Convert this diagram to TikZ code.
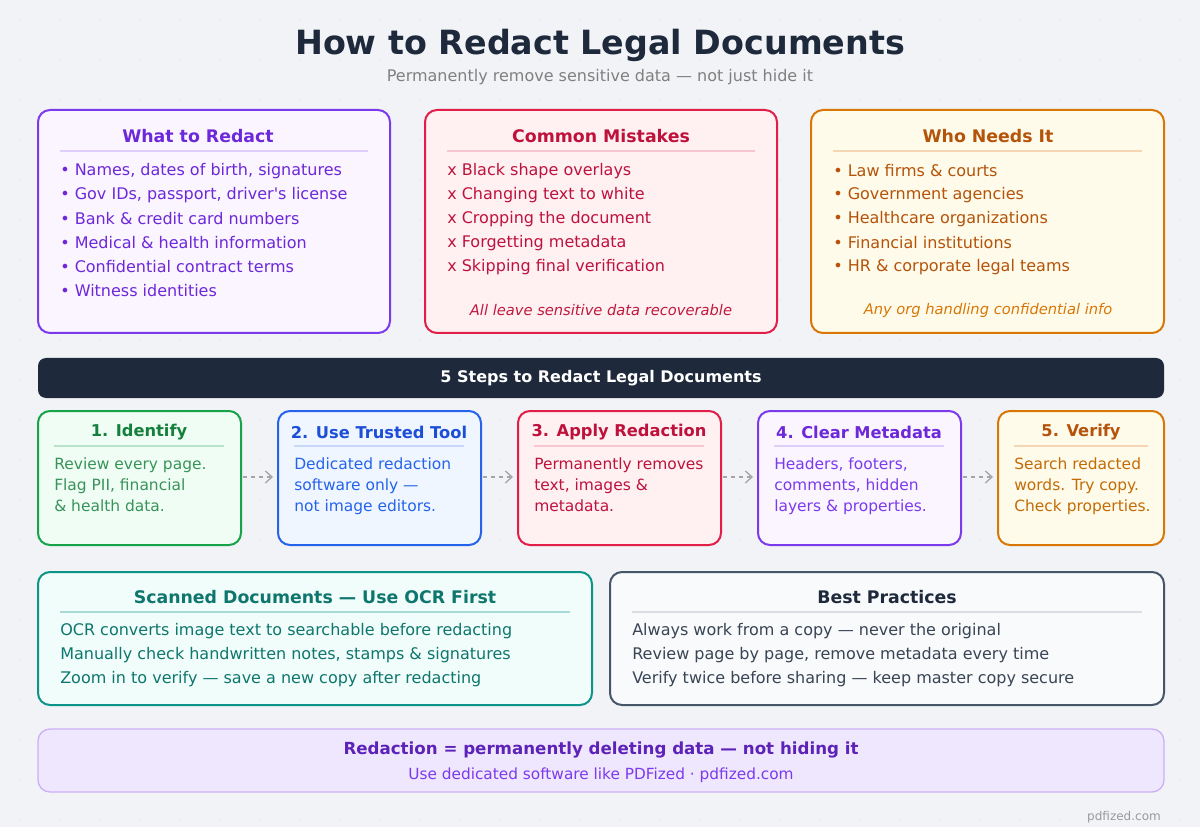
\documentclass[tikz,border=0pt]{standalone}
\usepackage{fontspec}
\setmainfont{DejaVu Sans}
\usetikzlibrary{positioning,arrows.meta}
\definecolor{bgc}{HTML}{F1F3F6}
\definecolor{pur}{HTML}{7C3AED}\definecolor{purt}{HTML}{6D28D9}\definecolor{purf}{HTML}{FAF5FF}
\definecolor{red1}{HTML}{E11D48}\definecolor{redt}{HTML}{BE123C}\definecolor{redf}{HTML}{FFF1F2}
\definecolor{org}{HTML}{D97706}\definecolor{orgt}{HTML}{B45309}\definecolor{orgf}{HTML}{FFFBEB}
\definecolor{grn}{HTML}{16A34A}\definecolor{grnt}{HTML}{15803D}\definecolor{grnf}{HTML}{F0FDF4}
\definecolor{blu}{HTML}{2563EB}\definecolor{blut}{HTML}{1D4ED8}\definecolor{bluf}{HTML}{EFF6FF}
\definecolor{tea}{HTML}{0D9488}\definecolor{teat}{HTML}{0F766E}\definecolor{teaf}{HTML}{F0FDFA}
\definecolor{sla}{HTML}{475569}\definecolor{slat}{HTML}{1E293B}\definecolor{slaf}{HTML}{F8FAFC}
\definecolor{navy}{HTML}{1E293B}
\tikzset{
  card/.style={draw=#1,line width=1.5pt,rounded corners=9pt},
  head/.style={font=\bfseries\fontsize{13}{15}\selectfont,text=#1,anchor=center},
  shead/.style={font=\bfseries\fontsize{12.2}{15}\selectfont,text=#1,anchor=center},
  item/.style={font=\fontsize{12}{14}\selectfont,text=#1,anchor=west,inner sep=0pt},
  step/.style={font=\fontsize{11.6}{16}\selectfont,text=#1,anchor=north west,align=left,inner sep=0pt},
  rule/.style={line width=1.2pt,draw=#1},
  flow/.style={draw=gray!70,line width=1pt,dashed,-{Straight Barb[length=5pt,width=9pt]}}
}
\begin{document}
\begin{tikzpicture}[x=0.75pt,y=-0.75pt]
\fill[bgc] (0,0) rectangle (1200,827);
\foreach \i in {20,60,...,1180} \foreach \j in {20,60,...,820} \fill[gray!30] (\i,\j) circle (0.6);
\useasboundingbox (0,0) rectangle (1200,827);

% title
\node[font=\bfseries\fontsize{25}{29}\selectfont,text=slat] (title) at (600,45) {How to Redact Legal Documents};
\node[font=\fontsize{12}{14}\selectfont,text=gray] (subtitle) at (600,77) {Permanently remove sensitive data — not just hide it};

% top cards
\draw[card=pur,fill=purf] (38,110) rectangle (390,333);
\node[head=purt] (whath) at (198,136) {What to Redact};
\draw[rule=pur!25] (60,151) -- (368,151);
\node[item=purt] (w1) at (60,171) {• Names, dates of birth, signatures};
\node[item=purt] (w2) at (60,195) {• Gov IDs, passport, driver\textquotesingle s license};
\node[item=purt] (w3) at (60,219) {• Bank \& credit card numbers};
\node[item=purt] (w4) at (60,243) {• Medical \& health information};
\node[item=purt] (w5) at (60,267) {• Confidential contract terms};
\node[item=purt] (w6) at (60,291) {• Witness identities};

\draw[card=red1,fill=redf] (425,110) rectangle (777,333);
\node[head=redt] (misth) at (601,136) {Common Mistakes};
\draw[rule=red1!25] (447,151) -- (755,151);
\node[item=redt] (m1) at (447,171) {x Black shape overlays};
\node[item=redt] (m2) at (447,195) {x Changing text to white};
\node[item=redt] (m3) at (447,219) {x Cropping the document};
\node[item=redt] (m4) at (447,243) {x Forgetting metadata};
\node[item=redt] (m5) at (447,267) {x Skipping final verification};
\node[font=\itshape\fontsize{11}{13}\selectfont,text=red1!85!black] (mnote) at (601,310) {All leave sensitive data recoverable};

\draw[card=org,fill=orgf] (811,110) rectangle (1164,333);
\node[head=orgt] (whoh) at (988,136) {Who Needs It};
\draw[rule=org!30] (833,151) -- (1142,151);
\node[item=orgt] (o1) at (833,171) {• Law firms \& courts};
\node[item=orgt] (o2) at (833,195) {• Government agencies};
\node[item=orgt] (o3) at (833,219) {• Healthcare organizations};
\node[item=orgt] (o4) at (833,243) {• Financial institutions};
\node[item=orgt] (o5) at (833,267) {• HR \& corporate legal teams};
\node[font=\itshape\fontsize{11}{13}\selectfont,text=org] (onote) at (988,310) {Any org handling confidential info};

% banner
\fill[navy,rounded corners=6pt] (38,358) rectangle (1164,398);
\node[font=\bfseries\fontsize{12}{14}\selectfont,text=white] (banner) at (601,378) {5 Steps to Redact Legal Documents};

% steps
\draw[card=grn,fill=grnf] (38,411) rectangle (241,545);
\node[shead=grnt] (s1) at (139,432) {1. Identify};
\draw[rule=grn!30] (54,446) -- (224,446);
\node[step=grnt!85] (s1t) at (54,457) {Review every page.\\Flag PII, financial\\\& health data.};

\draw[card=blu,fill=bluf] (278,411) rectangle (481,545);
\node[shead=blut] (s2) at (379,432) {2. Use Trusted Tool};
\draw[rule=blu!25] (294,446) -- (464,446);
\node[step=blu] (s2t) at (294,457) {Dedicated redaction\\software only —\\not image editors.};

\draw[card=red1,fill=redf] (518,411) rectangle (721,545);
\node[shead=redt] (s3) at (619,432) {3. Apply Redaction};
\draw[rule=red1!25] (534,446) -- (704,446);
\node[step=redt] (s3t) at (534,457) {Permanently removes\\text, images \&\\metadata.};

\draw[card=pur,fill=purf] (758,411) rectangle (961,545);
\node[shead=purt] (s4) at (859,432) {4. Clear Metadata};
\draw[rule=pur!25] (774,446) -- (944,446);
\node[step=pur] (s4t) at (774,457) {Headers, footers,\\comments, hidden\\layers \& properties.};

\draw[card=org,fill=orgf] (998,411) rectangle (1164,545);
\node[shead=orgt] (s5) at (1081,432) {5. Verify};
\draw[rule=org!30] (1014,446) -- (1148,446);
\node[step=org!90!black] (s5t) at (1014,457) {Search redacted\\words. Try copy.\\Check properties.};

\coordinate (a1) at (243,477); \coordinate (b1) at (273,477);
\coordinate (a2) at (483,477); \coordinate (b2) at (513,477);
\coordinate (a3) at (723,477); \coordinate (b3) at (753,477);
\coordinate (a4) at (963,477); \coordinate (b4) at (993,477);
\draw[flow] (a1) -- (b1);
\draw[flow] (a2) -- (b2);
\draw[flow] (a3) -- (b3);
\draw[flow] (a4) -- (b4);

% bottom cards
\draw[card=tea,fill=teaf] (38,572) rectangle (592,705);
\node[head=teat] (ocrh) at (315,597) {Scanned Documents — Use OCR First};
\draw[rule=tea!35] (60,612) -- (570,612);
\node[item=teat] (c1) at (60,631) {OCR converts image text to searchable before redacting};
\node[item=teat] (c2) at (60,655) {Manually check handwritten notes, stamps \& signatures};
\node[item=teat] (c3) at (60,679) {Zoom in to verify — save a new copy after redacting};

\draw[card=sla,fill=slaf] (610,572) rectangle (1164,705);
\node[head=slat] (besth) at (887,597) {Best Practices};
\draw[rule=sla!20] (632,612) -- (1142,612);
\node[item=sla!80!black] (p1) at (632,631) {Always work from a copy — never the original};
\node[item=sla!80!black] (p2) at (632,655) {Review page by page, remove metadata every time};
\node[item=sla!80!black] (p3) at (632,679) {Verify twice before sharing — keep master copy secure};

% footer
\draw[draw=pur!40,line width=1pt,fill=pur!12,rounded corners=9pt] (38,729) rectangle (1164,792);
\node[font=\bfseries\fontsize{12.5}{14}\selectfont,text=purt!85!black] (sumh) at (601,750) {Redaction = permanently deleting data — not hiding it};
\node[font=\fontsize{11.5}{13}\selectfont,text=pur] (sumt) at (601,775) {Use dedicated software like PDFized · pdfized.com};
\node[font=\fontsize{9}{11}\selectfont,text=gray!80] (brand) at (1124,817) {pdfized.com};
\end{tikzpicture}
\end{document}
